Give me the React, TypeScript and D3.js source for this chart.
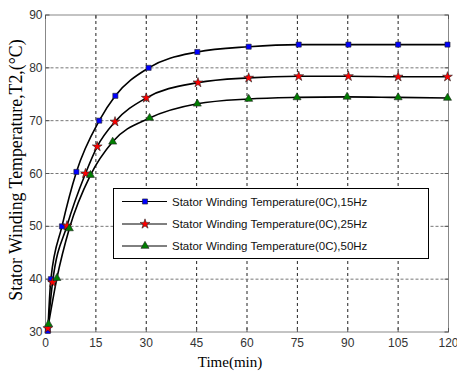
import React from "react";
import * as d3 from "d3";

const xTicks = [0, 15, 30, 45, 60, 75, 90, 105, 120];
const yTicks = [30, 40, 50, 60, 70, 80, 90];

const t15 = [0.7, 1.6, 4.9, 9.2, 16, 20.8, 30.7, 45.2, 60.5, 75.4, 90.2, 105, 119.7];
const v15 = [30.2, 40, 50, 60.3, 70, 74.7, 80, 83, 84, 84.4, 84.4, 84.4, 84.4];
const t25 = [0.7, 2.1, 6.4, 11.9, 15.4, 20.7, 30, 45.4, 60.5, 75.4, 90.2, 105, 119.7];
const v25 = [30.7, 39.4, 50.1, 60, 65.1, 69.8, 74.3, 77.2, 78.1, 78.4, 78.4, 78.3, 78.3];
const t50 = [0.9, 3.4, 7.1, 13.4, 20, 31, 45.2, 60.5, 74.9, 89.8, 105, 119.7];
const v50 = [31.5, 40.2, 49.6, 59.7, 66, 70.5, 73.2, 74.1, 74.4, 74.5, 74.4, 74.3];

const legendLabels = [
  "Stator Winding Temperature(0C),15Hz",
  "Stator Winding Temperature(0C),25Hz",
  "Stator Winding Temperature(0C),50Hz",
];

const series = [
  { t: t15, v: v15, fill: "#0000ff", sym: d3.symbolSquare, size: 26 },
  { t: t25, v: v25, fill: "#ff0000", sym: d3.symbolStar, size: 30 },
  { t: t50, v: v50, fill: "#007f00", sym: d3.symbolTriangle, size: 28 },
];

export default function App() {
  const W = 457, H = 374;
  const L = 45.5, R = 448.5, T = 15, B = 332;
  const x = d3.scaleLinear().domain([0, 120]).range([L, R]);
  const y = d3.scaleLinear().domain([30, 90]).range([B, T]);
  const line = d3
    .line<[number, number]>()
    .x((d) => x(d[0]))
    .y((d) => y(d[1]))
    .curve(d3.curveMonotoneX);
  const sans = "'Liberation Sans', Arial, sans-serif";
  const serif = "'Liberation Serif', 'Times New Roman', serif";
  const legX = 113.5, legY = 188.5, legW = 315, legH = 70;
  const legRows = [201.5, 224, 246];
  return (
    <svg width={W} height={H} style={{ position: "absolute", left: 0, top: 0, background: "#fff" }}>
      <rect x={0} y={0} width={W} height={H} fill="#fff" />
      {/* grid */}
      {xTicks.slice(1, -1).map((t) => (
        <line key={"gx" + t} x1={x(t)} x2={x(t)} y1={T} y2={B} stroke="#222" strokeWidth={1} strokeDasharray="3,3" />
      ))}
      {yTicks.slice(1, -1).map((t) => (
        <line key={"gy" + t} x1={L} x2={R} y1={y(t)} y2={y(t)} stroke="#777" strokeWidth={1} strokeDasharray="3,2" />
      ))}
      {/* frame */}
      <rect x={L} y={T} width={R - L} height={B - T} fill="none" stroke="#888" strokeWidth={1} />
      {xTicks.map((t) => (
        <g key={"tx" + t}>
          <line x1={x(t)} x2={x(t)} y1={B} y2={B - 4} stroke="#555" />
          <line x1={x(t)} x2={x(t)} y1={T} y2={T + 4} stroke="#555" />
          <text x={x(t)} y={B + 15} textAnchor="middle" fontFamily={sans} fontSize={12} fill="#333">
            {t}
          </text>
        </g>
      ))}
      {yTicks.map((t) => (
        <g key={"ty" + t}>
          <line x1={L} x2={L + 4} y1={y(t)} y2={y(t)} stroke="#555" />
          <line x1={R} x2={R - 4} y1={y(t)} y2={y(t)} stroke="#555" />
          <text x={L - 3} y={y(t) + 4} textAnchor="end" fontFamily={sans} fontSize={12} fill="#333">
            {t}
          </text>
        </g>
      ))}
      {/* lines */}
      {series.map((s, i) => (
        <path
          key={"l" + i}
          d={line(s.t.map((t, j) => [t, s.v[j]] as [number, number])) || ""}
          fill="none"
          stroke="#000"
          strokeWidth={1.6}
        />
      ))}
      {series.map((s, i) =>
        s.t.map((t, j) => (
          <path
            key={"m" + i + "-" + j}
            d={d3.symbol().type(s.sym).size(s.size)() || ""}
            transform={`translate(${x(t)},${y(s.v[j])})`}
            fill={s.fill}
            stroke="#222"
            strokeWidth={0.6}
          />
        ))
      )}
      {/* legend */}
      <rect x={legX} y={legY} width={legW} height={legH} fill="#fff" stroke="#000" strokeWidth={1} />
      {series.map((s, i) => (
        <g key={"lg" + i}>
          <line x1={122} x2={167} y1={legRows[i]} y2={legRows[i]} stroke="#000" strokeWidth={1} />
          <path
            d={d3.symbol().type(s.sym).size(s.size)() || ""}
            transform={`translate(145,${legRows[i]})`}
            fill={s.fill}
            stroke="#222"
            strokeWidth={0.6}
          />
          <text x={172} y={legRows[i] + 4} fontFamily={sans} fontSize={11.5} fill="#111">
            {legendLabels[i]}
          </text>
        </g>
      ))}
      {/* axis labels */}
      <text x={230} y={367} textAnchor="middle" fontFamily={serif} fontSize={15} fill="#000">
        Time(min)
      </text>
      <text
        transform="translate(22,170) rotate(-90)"
        textAnchor="middle"
        fontFamily={serif}
        fontSize={17.8}
        fill="#000"
      >
        Stator Winding Temperature,T2,(°C)
      </text>
    </svg>
  );
}
